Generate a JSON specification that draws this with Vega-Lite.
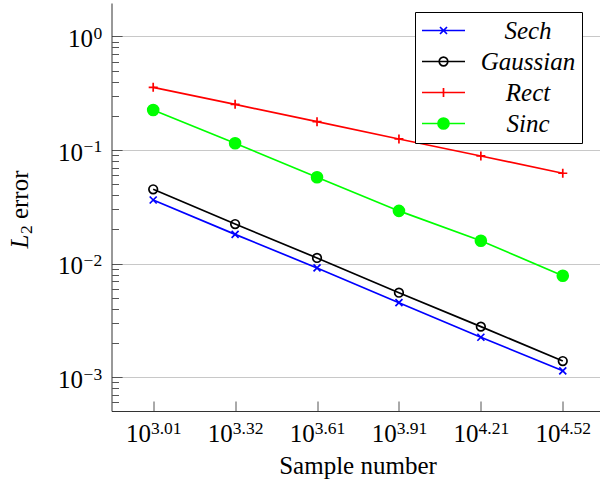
{
  "$schema": "https://vega.github.io/schema/vega-lite/v6.json",
  "width": 488.5,
  "height": 408,
  "autosize": {"type": "none"},
  "padding": {"left": 111.5, "top": 3, "right": 0, "bottom": 78},
  "background": "white",
  "config": {
    "view": {"stroke": null},
    "font": "Liberation Serif",
    "axis": {
      "labelFont": "Liberation Serif",
      "titleFont": "Liberation Serif",
      "labelColor": "black",
      "titleColor": "black",
      "titleFontWeight": "normal",
      "labelFlush": false,
      "labelOverlap": false,
      "domainColor": "#333333",
      "tickColor": "#555555"
    }
  },
  "data": {
    "values": [
      {"n": 1024, "err": 0.0363, "series": "Sech"},
      {"n": 2048, "err": 0.0181, "series": "Sech"},
      {"n": 4096, "err": 0.00916, "series": "Sech"},
      {"n": 8192, "err": 0.00453, "series": "Sech"},
      {"n": 16384, "err": 0.00225, "series": "Sech"},
      {"n": 32768, "err": 0.00114, "series": "Sech"},
      {"n": 1024, "err": 0.0451, "series": "Gaussian"},
      {"n": 2048, "err": 0.0223, "series": "Gaussian"},
      {"n": 4096, "err": 0.01122, "series": "Gaussian"},
      {"n": 8192, "err": 0.00555, "series": "Gaussian"},
      {"n": 16384, "err": 0.00279, "series": "Gaussian"},
      {"n": 32768, "err": 0.00139, "series": "Gaussian"},
      {"n": 1024, "err": 0.356, "series": "Rect"},
      {"n": 2048, "err": 0.252, "series": "Rect"},
      {"n": 4096, "err": 0.1774, "series": "Rect"},
      {"n": 8192, "err": 0.125, "series": "Rect"},
      {"n": 16384, "err": 0.0886, "series": "Rect"},
      {"n": 32768, "err": 0.0624, "series": "Rect"},
      {"n": 1024, "err": 0.225, "series": "Sinc"},
      {"n": 2048, "err": 0.1146, "series": "Sinc"},
      {"n": 4096, "err": 0.0575, "series": "Sinc"},
      {"n": 8192, "err": 0.0291, "series": "Sinc"},
      {"n": 16384, "err": 0.0159, "series": "Sinc"},
      {"n": 32768, "err": 0.00783, "series": "Sinc"}
    ]
  },
  "resolve": {"axis": {"x": "independent", "y": "independent"}},
  "layer": [
    {
      "mark": {"type": "line", "strokeWidth": 1.7},
      "encoding": {
        "x": {
          "field": "n", "type": "quantitative",
          "scale": {"type": "log", "domain": [719.6, 44900], "nice": false},
          "axis": {
            "orient": "bottom",
            "values": [1024, 2048, 4096, 8192, 16384, 32768],
            "labelExpr": "'10'",
            "labelAlign": "right",
            "labelBaseline": "alphabetic",
            "labelOffset": -2.8,
            "labelPadding": 40.7,
            "labelFontSize": 25,
            "tickSize": -10,
            "tickWidth": 1,
            "domainWidth": 1,
            "grid": false,
            "title": "Sample number",
            "titleFontSize": 25,
            "titleX": 246,
            "titleY": 62.3,
            "titleAlign": "center",
            "titleBaseline": "alphabetic"
          }
        },
        "y": {
          "field": "err", "type": "quantitative",
          "scale": {"type": "log", "domain": [0.000505, 1.965], "nice": false},
          "axis": {
            "orient": "left",
            "values": [0.001, 0.01, 0.1, 1],
            "labelExpr": "'10'",
            "labelAlign": "right",
            "labelBaseline": "alphabetic",
            "labelOffset": 10.3,
            "labelPadding": {"condition": {"test": "datum.value >= 0.5", "value": 29.7}, "value": 39.5},
            "labelFontSize": 25,
            "tickSize": -10.6,
            "tickWidth": 1,
            "domainWidth": 1,
            "grid": true,
            "gridColor": "#c8c8c8",
            "gridWidth": 1,
            "title": "L",
            "titleFontSize": 25,
            "titleFontStyle": "italic",
            "titleAngle": -90,
            "titleX": -84,
            "titleY": 245,
            "titleAlign": "left",
            "titleBaseline": "alphabetic"
          }
        },
        "color": {
          "field": "series", "type": "nominal",
          "scale": {"domain": ["Sech", "Gaussian", "Rect", "Sinc"], "range": ["#0000ff", "#000000", "#ff0000", "#00ff00"]},
          "legend": {
            "orient": "none",
            "legendX": 303.5,
            "legendY": 9,
            "title": null,
            "padding": 6,
            "strokeColor": "black",
            "fillColor": "white",
            "symbolSize": 100,
            "symbolOffset": 10,
            "symbolStrokeWidth": 1.6,
            "labelOffset": 72,
            "labelAlign": "center",
            "labelBaseline": "middle",
            "labelFont": "Liberation Serif",
            "labelFontSize": 25,
            "labelFontStyle": "italic",
            "labelColor": "black",
            "labelExpr": "'\u00a0\u00a0' + datum.label + '\u00a0\u00a0'",
            "rowPadding": 5,
            "encode": {
              "symbols": {
                "update": {
                  "shape": {"signal": "datum.value === 'Sech' ? 'M-4.3,0H4.3M-0.7,-0.7L0.7,0.7M-0.7,0.7L0.7,-0.7' : datum.value === 'Gaussian' ? 'M-4.3,0H4.3M0.86,0A0.86,0.86,0,1,1,-0.86,0A0.86,0.86,0,1,1,0.86,0' : datum.value === 'Rect' ? 'M-4.3,0H4.3M0,-0.9V0.9' : 'M-4.3,0H4.3M1.1,0A1.1,1.1,0,1,1,-1.1,0A1.1,1.1,0,1,1,1.1,0'"},
                  "fill": {"signal": "datum.value === 'Sinc' ? '#00ff00' : 'transparent'"},
                  "stroke": {"signal": "datum.value === 'Sech' ? '#0000ff' : datum.value === 'Gaussian' ? '#000000' : datum.value === 'Rect' ? '#ff0000' : '#00ff00'"},
                  "strokeWidth": {"value": 1.7},
                  "opacity": {"value": 1}
                }
              }
            }
          }
        }
      }
    },
    {
      "mark": {"type": "point", "opacity": 0},
      "encoding": {
        "x": {
          "field": "n", "type": "quantitative",
          "scale": {"type": "log", "domain": [719.6, 44900], "nice": false},
          "axis": {
            "orient": "bottom",
            "values": [1024, 2048, 4096, 8192, 16384, 32768],
            "labelExpr": "datum.value == 2048 ? '3.32' : format(log(datum.value)/LN10, '.2f')",
            "labelAlign": "left",
            "labelBaseline": "alphabetic",
            "labelOffset": -2.8,
            "labelPadding": 22.3,
            "labelFontSize": 17.5,
            "ticks": false,
            "domain": false,
            "grid": false,
            "title": null
          }
        },
        "y": {
          "field": "err", "type": "quantitative",
          "scale": {"type": "log", "domain": [0.000505, 1.965], "nice": false},
          "axis": {
            "orient": "left",
            "values": [0.001, 0.01, 0.1, 1],
            "labelExpr": "replace('' + round(log(datum.value)/LN10), '-', '\u2212')",
            "labelAlign": "right",
            "labelBaseline": "alphabetic",
            "labelOffset": 2,
            "labelPadding": 9.8,
            "labelFontSize": 17.5,
            "ticks": false,
            "domain": false,
            "grid": false,
            "title": "2",
            "titleFontSize": 17.5,
            "titleAngle": -90,
            "titleX": -80,
            "titleY": 230.6,
            "titleAlign": "left",
            "titleBaseline": "alphabetic"
          }
        }
      }
    },
    {
      "mark": {"type": "point", "opacity": 0},
      "encoding": {
        "x": {
          "field": "n", "type": "quantitative",
          "scale": {"type": "log", "domain": [719.6, 44900], "nice": false},
          "axis": null
        },
        "y": {
          "field": "err", "type": "quantitative",
          "scale": {"type": "log", "domain": [0.000505, 1.965], "nice": false},
          "axis": {
            "orient": "left",
            "values": [0.0006, 0.0007, 0.0008, 0.0009, 0.002, 0.003, 0.004, 0.005, 0.006, 0.007, 0.008, 0.009, 0.02, 0.03, 0.04, 0.05, 0.06, 0.07, 0.08, 0.09, 0.2, 0.3, 0.4, 0.5, 0.6, 0.7, 0.8, 0.9],
            "labels": false,
            "tickSize": -7,
            "tickWidth": 1,
            "domain": false,
            "grid": false,
            "title": "error",
            "titleFontSize": 25,
            "titleAngle": -90,
            "titleX": -84,
            "titleY": 215.6,
            "titleAlign": "left",
            "titleBaseline": "alphabetic"
          }
        }
      }
    },
    {
      "transform": [{"filter": "datum.series === 'Sech'"}],
      "mark": {"type": "point", "shape": "M-0.7,-0.7L0.7,0.7M-0.7,0.7L0.7,-0.7", "size": 100, "stroke": "#0000ff", "fill": "transparent", "strokeWidth": 1.7, "opacity": 1},
      "encoding": {
        "x": {"field": "n", "type": "quantitative", "scale": {"type": "log", "domain": [719.6, 44900], "nice": false}, "axis": null},
        "y": {"field": "err", "type": "quantitative", "scale": {"type": "log", "domain": [0.000505, 1.965], "nice": false}, "axis": null}
      }
    },
    {
      "transform": [{"filter": "datum.series === 'Gaussian'"}],
      "mark": {"type": "point", "shape": "M0.86,0A0.86,0.86,0,1,1,-0.86,0A0.86,0.86,0,1,1,0.86,0", "size": 100, "stroke": "#000000", "fill": "transparent", "strokeWidth": 1.7, "opacity": 1},
      "encoding": {
        "x": {"field": "n", "type": "quantitative", "scale": {"type": "log", "domain": [719.6, 44900], "nice": false}, "axis": null},
        "y": {"field": "err", "type": "quantitative", "scale": {"type": "log", "domain": [0.000505, 1.965], "nice": false}, "axis": null}
      }
    },
    {
      "transform": [{"filter": "datum.series === 'Rect'"}],
      "mark": {"type": "point", "shape": "M-0.9,0H0.9M0,-0.9V0.9", "size": 100, "stroke": "#ff0000", "fill": "transparent", "strokeWidth": 1.7, "opacity": 1},
      "encoding": {
        "x": {"field": "n", "type": "quantitative", "scale": {"type": "log", "domain": [719.6, 44900], "nice": false}, "axis": null},
        "y": {"field": "err", "type": "quantitative", "scale": {"type": "log", "domain": [0.000505, 1.965], "nice": false}, "axis": null}
      }
    },
    {
      "transform": [{"filter": "datum.series === 'Sinc'"}],
      "mark": {"type": "point", "shape": "M1.1,0A1.1,1.1,0,1,1,-1.1,0A1.1,1.1,0,1,1,1.1,0", "size": 100, "stroke": "#00ff00", "fill": "#00ff00", "strokeWidth": 1.6, "opacity": 1},
      "encoding": {
        "x": {"field": "n", "type": "quantitative", "scale": {"type": "log", "domain": [719.6, 44900], "nice": false}, "axis": null},
        "y": {"field": "err", "type": "quantitative", "scale": {"type": "log", "domain": [0.000505, 1.965], "nice": false}, "axis": null}
      }
    }
  ]
}
